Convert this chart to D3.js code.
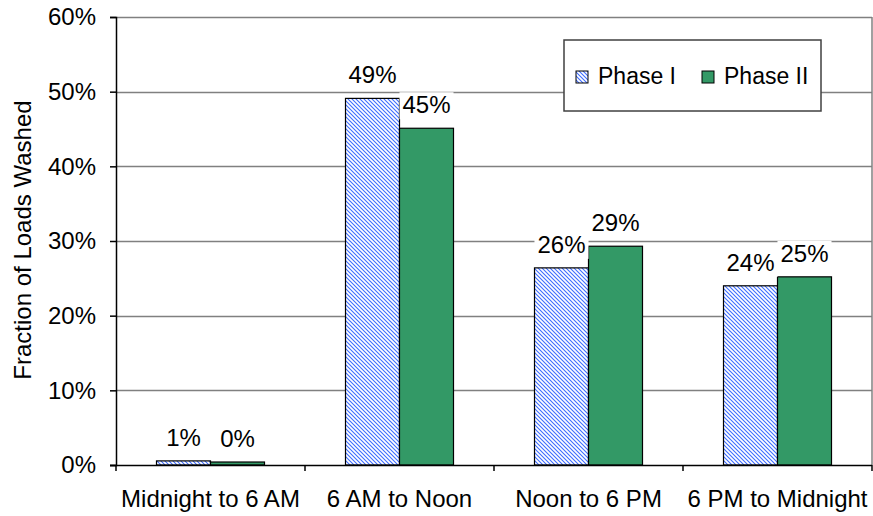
<!DOCTYPE html>
<html>
<head>
<meta charset="utf-8">
<script src="https://cdn.jsdelivr.net/npm/d3@7"></script>
<style>
  html, body { margin: 0; padding: 0; background: #fff; }
  svg { display: block; font-family: "Liberation Sans", Arial, sans-serif; }
</style>
</head>
<body>
<svg id="chart" width="873" height="516"></svg>
<script>
const categories = ["Midnight to 6 AM", "6 AM to Noon", "Noon to 6 PM", "6 PM to Midnight"];
const seriesNames = ["Phase I", "Phase II"];
const phase1 = [0.0055, 0.491, 0.264, 0.240];
const phase2 = [0.004, 0.451, 0.293, 0.252];
const yTicks = [0, 0.1, 0.2, 0.3, 0.4, 0.5, 0.6];
const yTitle = "Fraction of Loads Washed";

(function() {
const svg = d3.select("#chart");
const pLeft = 116, pRight = 872, pTop = 17, pBottom = 465;

const x0 = d3.scaleBand().domain(categories).range([pLeft, pRight]).paddingInner(0).paddingOuter(0);
const x1 = d3.scaleBand().domain(seriesNames).range([0, x0.bandwidth()]).paddingInner(0).paddingOuter(0.75);
const y = d3.scaleLinear().domain([0, 0.6]).range([pBottom, pTop]);
const fmt = d3.format(".0%");

// hatch pattern
const defs = svg.append("defs");
const pat = defs.append("pattern").attr("id", "hatch").attr("patternUnits", "userSpaceOnUse")
  .attr("width", 4).attr("height", 4);
pat.append("rect").attr("width", 4).attr("height", 4).attr("fill", "#ffffff");
pat.append("path").attr("d", "M-1,-1 L5,5 M3,-1 L5,1 M-1,3 L1,5")
  .attr("stroke", "#3d6dff").attr("stroke-width", 1.1);

const colors = { "Phase I": "url(#hatch)", "Phase II": "#339966" };

// gridlines
svg.append("g").selectAll("line").data(yTicks.filter(d => d > 0)).join("line")
  .attr("x1", pLeft).attr("x2", pRight)
  .attr("y1", d => Math.round(y(d)) + 0.5).attr("y2", d => Math.round(y(d)) + 0.5)
  .attr("stroke", "#808080").attr("stroke-width", 1.5);
// right border
svg.append("line").attr("x1", pRight).attr("x2", pRight).attr("y1", pTop).attr("y2", pBottom)
  .attr("stroke", "#808080").attr("stroke-width", 1.5);

// y axis
const yAxis = d3.axisLeft(y).tickValues(yTicks).tickFormat(fmt).tickSize(6).tickPadding(14);
const gy = svg.append("g").attr("transform", `translate(${pLeft},0)`).call(yAxis);
gy.select(".domain").attr("stroke", "#000").attr("stroke-width", 1.5);
gy.selectAll(".tick line").attr("stroke", "#000").attr("stroke-width", 1.5);
gy.selectAll(".tick text").attr("font-size", 24).attr("font-family", "Liberation Sans, Arial, sans-serif").attr("fill", "#000");

// bars
const data = categories.map((c, i) => ({ cat: c, vals: [
  { s: "Phase I", v: phase1[i] }, { s: "Phase II", v: phase2[i] }] }));

const groups = svg.append("g").selectAll("g").data(data).join("g")
  .attr("transform", d => `translate(${x0(d.cat)},0)`);

groups.selectAll("rect").data(d => d.vals).join("rect")
  .attr("x", d => x1(d.s))
  .attr("y", d => y(d.v))
  .attr("width", x1.bandwidth())
  .attr("height", d => y(0) - y(d.v))
  .attr("fill", d => colors[d.s])
  .attr("stroke", "#000").attr("stroke-width", 1.2);

// x axis
svg.append("line").attr("x1", pLeft - 6).attr("x2", pRight).attr("y1", pBottom + 0.5).attr("y2", pBottom + 0.5)
  .attr("stroke", "#000").attr("stroke-width", 1.5);
const bounds = categories.map(c => x0(c)).concat([pRight]);
svg.append("g").selectAll("line").data(bounds).join("line")
  .attr("x1", d => d).attr("x2", d => d).attr("y1", pBottom).attr("y2", pBottom + 6)
  .attr("stroke", "#000").attr("stroke-width", 1.5);
svg.append("g").selectAll("text").data(categories).join("text")
  .attr("x", d => x0(d) + x0.bandwidth() / 2).attr("y", 507)
  .attr("text-anchor", "middle").attr("font-size", 24).attr("fill", "#000")
  .text(d => d);

// data labels with white boxes
const labelG = groups.selectAll("g.lbl").data(d => d.vals).join("g").attr("class", "lbl");
labelG.each(function(d) {
  const g = d3.select(this);
  const cx = x1(d.s) + x1.bandwidth() / 2;
  const by = y(d.v) - 15;
  const t = g.append("text").attr("x", cx).attr("y", by).attr("text-anchor", "middle")
    .attr("font-size", 24).attr("fill", "#000").text(fmt(d.v));
  const bb = t.node().getBBox();
  g.insert("rect", "text").attr("x", bb.x - 3).attr("y", bb.y + 1).attr("width", bb.width + 6).attr("height", bb.height)
    .attr("fill", "#fff");
});

// y title
svg.append("text").attr("transform", "translate(31,240) rotate(-90)")
  .attr("text-anchor", "middle").attr("font-size", 24).attr("fill", "#000").text(yTitle);

// legend
const lg = svg.append("g");
lg.append("rect").attr("x", 564).attr("y", 40).attr("width", 257).attr("height", 71)
  .attr("fill", "#fff").attr("stroke", "#404040").attr("stroke-width", 1.5);
const legendX = [576, 702];
seriesNames.forEach((s, i) => {
  lg.append("rect").attr("x", legendX[i]).attr("y", 71).attr("width", 12).attr("height", 12)
    .attr("fill", colors[s]).attr("stroke", "#000").attr("stroke-width", 1);
  lg.append("text").attr("x", legendX[i] + 22).attr("y", 84).attr("font-size", 23).attr("fill", "#000").text(s);
});
})();
</script>
</body>
</html>
